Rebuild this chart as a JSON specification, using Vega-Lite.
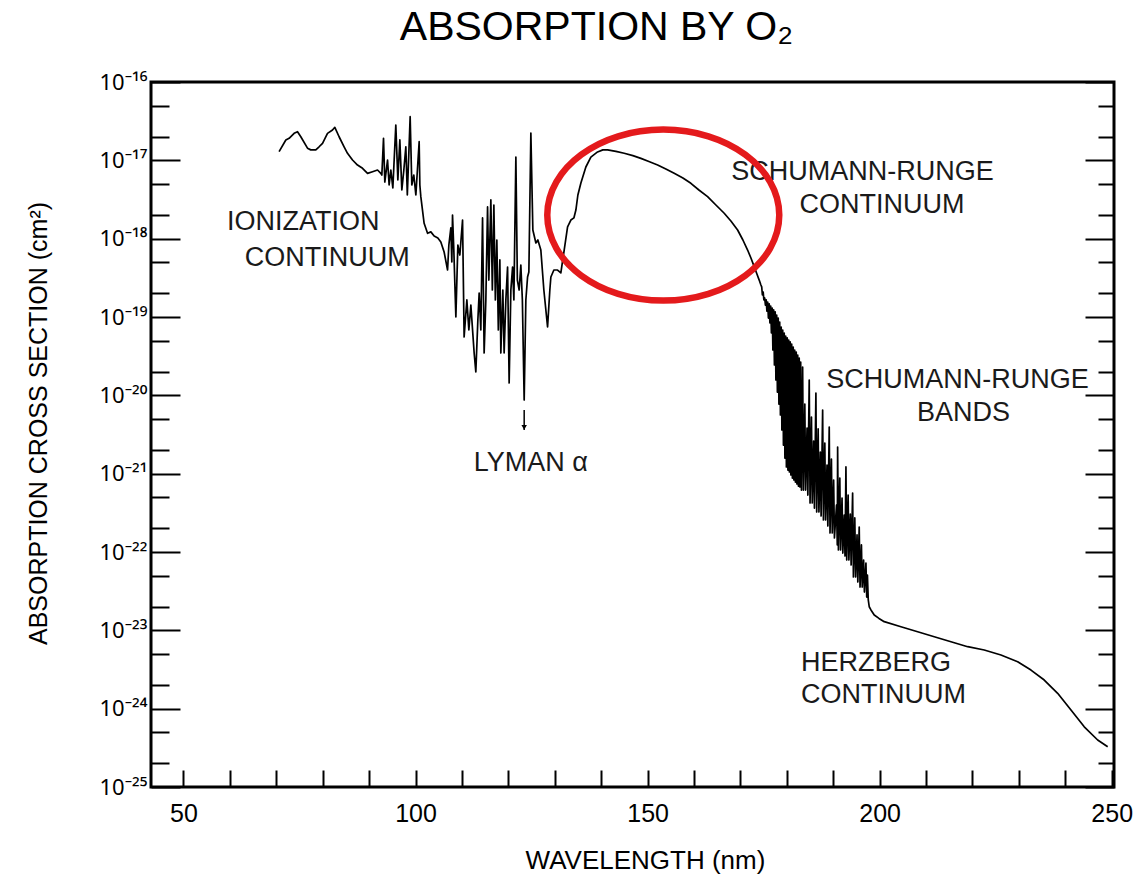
{
  "$schema": "https://vega.github.io/schema/vega-lite/v6.json",
  "autosize": {"type": "none"},
  "width": 963,
  "height": 705,
  "padding": {"left": 151, "top": 82, "right": 19, "bottom": 88},
  "background": "white",
  "config": {
    "view": {"stroke": "black", "strokeWidth": 3},
    "font": "Liberation Sans"
  },
  "title": {"text": "ABSORPTION BY O₂", "font": "Liberation Sans", "fontSize": 41, "fontWeight": "normal", "color": "black", "anchor": "middle", "dx": -36, "offset": 22, "baseline": "top"},
  "datasets": {
    "curve": [
      {"wl":70.60,"xs":1.29e-17},{"wl":72.05,"xs":1.82e-17},{"wl":72.76,"xs":1.91e-17},{"wl":73.84,"xs":2.21e-17},{"wl":74.57,"xs":2.32e-17},{"wl":75.28,"xs":2.00e-17},{"wl":76.72,"xs":1.43e-17},{"wl":77.43,"xs":1.36e-17},{"wl":78.51,"xs":1.36e-17},{"wl":79.22,"xs":1.49e-17},{"wl":79.96,"xs":1.65e-17},{"wl":81.03,"xs":2.21e-17},{"wl":82.11,"xs":2.44e-17},{"wl":82.61,"xs":2.64e-17},{"wl":83.53,"xs":2.00e-17},{"wl":84.61,"xs":1.49e-17},{"wl":85.34,"xs":1.23e-17},{"wl":86.42,"xs":1.01e-17},{"wl":87.50,"xs":8.71e-18},{"wl":88.58,"xs":7.91e-18},{"wl":89.66,"xs":6.82e-18},{"wl":90.73,"xs":7.16e-18},{"wl":91.81,"xs":7.53e-18},{"wl":92.52,"xs":6.82e-18},{"wl":92.74,"xs":6.50e-18},{"wl":93.10,"xs":1.91e-17},{"wl":93.38,"xs":5.28e-18},{"wl":93.97,"xs":1.01e-17},{"wl":94.31,"xs":4.84e-18},{"wl":94.68,"xs":7.53e-18},{"wl":95.11,"xs":4.44e-18},{"wl":95.75,"xs":2.82e-17},{"wl":96.19,"xs":5.61e-18},{"wl":96.62,"xs":1.82e-17},{"wl":97.05,"xs":4.18e-18},{"wl":97.48,"xs":7.53e-18},{"wl":97.91,"xs":1.49e-17},{"wl":98.23,"xs":3.61e-18},{"wl":98.84,"xs":3.61e-17},{"wl":99.20,"xs":4.84e-18},{"wl":99.63,"xs":6.50e-18},{"wl":100.07,"xs":3.61e-18},{"wl":100.78,"xs":1.73e-17},{"wl":100.93,"xs":4.84e-18},{"wl":101.14,"xs":3.44e-18},{"wl":101.85,"xs":1.57e-18},{"wl":102.59,"xs":1.17e-18},{"wl":103.30,"xs":1.22e-18},{"wl":104.01,"xs":1.08e-18},{"wl":104.81,"xs":1.02e-18},{"wl":105.45,"xs":9.06e-19},{"wl":106.16,"xs":6.76e-19},{"wl":106.90,"xs":3.98e-19},
      {"wl":107.18,"xs":8.30e-19},{"wl":107.61,"xs":1.37e-18},{"wl":107.82,"xs":5.04e-19},{"wl":107.97,"xs":2.00e-18},{"wl":108.25,"xs":7.16e-19},{"wl":108.69,"xs":1.00e-19},{"wl":109.12,"xs":8.30e-19},{"wl":109.55,"xs":6.18e-19},{"wl":110.13,"xs":1.73e-18},{"wl":110.47,"xs":5.56e-20},{"wl":111.06,"xs":1.65e-19},{"wl":111.49,"xs":6.82e-20},{"wl":111.92,"xs":1.42e-19},{"wl":112.63,"xs":3.47e-20},{"wl":112.99,"xs":1.99e-20},{"wl":113.43,"xs":9.16e-20},{"wl":113.71,"xs":2.02e-19},{"wl":114.07,"xs":6.82e-20},{"wl":114.44,"xs":1.84e-18},{"wl":114.78,"xs":3.47e-20},{"wl":115.15,"xs":1.65e-19},{"wl":115.52,"xs":2.54e-18},{"wl":115.80,"xs":2.96e-19},{"wl":116.23,"xs":3.12e-18},{"wl":116.55,"xs":2.21e-19},{"wl":116.88,"xs":2.69e-18},{"wl":117.20,"xs":1.65e-19},{"wl":117.52,"xs":9.62e-19},{"wl":117.84,"xs":6.82e-20},{"wl":118.17,"xs":5.35e-19},{"wl":118.38,"xs":3.47e-20},{"wl":118.81,"xs":2.21e-19},{"wl":119.09,"xs":3.47e-20},{"wl":119.46,"xs":1.65e-19},{"wl":119.83,"xs":4.35e-19},{"wl":120.17,"xs":1.44e-20},{"wl":120.54,"xs":2.21e-19},{"wl":120.91,"xs":4.35e-19},{"wl":121.19,"xs":1.65e-19},{"wl":121.62,"xs":1.10e-17},{"wl":121.94,"xs":2.96e-19},{"wl":122.33,"xs":2.21e-19},{"wl":122.69,"xs":4.61e-19},{"wl":123.02,"xs":1.65e-19},{"wl":123.41,"xs":8.71e-21},{"wl":123.77,"xs":1.65e-19},{"wl":124.14,"xs":3.24e-19},{"wl":124.42,"xs":3.75e-19},{"wl":124.85,"xs":2.23e-17},{"wl":125.28,"xs":1.29e-18},{"wl":125.93,"xs":8.81e-19},{"wl":126.36,"xs":9.62e-19},{"wl":127.00,"xs":7.16e-19},{"wl":127.65,"xs":2.21e-19},{"wl":128.45,"xs":7.45e-20},{"wl":128.94,"xs":2.21e-19},{"wl":129.16,"xs":3.24e-19},{"wl":129.81,"xs":3.98e-19},{"wl":130.60,"xs":3.98e-19},{"wl":131.31,"xs":3.65e-19},
      {"wl":132.03,"xs":7.16e-19},{"wl":132.76,"xs":1.41e-18},{"wl":133.47,"xs":1.73e-18},{"wl":134.12,"xs":1.84e-18},{"wl":134.55,"xs":2.32e-18},{"wl":134.98,"xs":3.61e-18},{"wl":135.63,"xs":5.14e-18},{"wl":136.70,"xs":8.22e-18},{"wl":137.78,"xs":1.10e-17},{"wl":139.22,"xs":1.28e-17},{"wl":140.36,"xs":1.36e-17},{"wl":141.38,"xs":1.36e-17},{"wl":143.17,"xs":1.30e-17},{"wl":144.96,"xs":1.23e-17},{"wl":146.83,"xs":1.15e-17},{"wl":148.56,"xs":1.06e-17},{"wl":150.28,"xs":9.66e-18},{"wl":152.16,"xs":8.71e-18},{"wl":153.94,"xs":7.74e-18},{"wl":155.73,"xs":6.82e-18},{"wl":157.61,"xs":5.94e-18},{"wl":159.33,"xs":5.09e-18},{"wl":161.06,"xs":4.18e-18},{"wl":162.93,"xs":3.44e-18},{"wl":164.72,"xs":2.69e-18},{"wl":166.51,"xs":2.11e-18},{"wl":167.95,"xs":1.68e-18},{"wl":169.40,"xs":1.29e-18},{"wl":170.54,"xs":9.62e-19},{"wl":171.55,"xs":7.16e-19},{"wl":172.27,"xs":5.66e-19},{"wl":172.97,"xs":4.39e-19},{"wl":173.56,"xs":3.54e-19},{"wl":174.05,"xs":2.96e-19},{"wl":174.42,"xs":2.56e-19},
      {"wl":174.59,"xs":2.42e-19},{"wl":174.74,"xs":1.91e-19},{"wl":174.91,"xs":2.08e-19},{"wl":175.06,"xs":1.65e-19},{"wl":175.23,"xs":1.75e-19},{"wl":175.39,"xs":1.42e-19},{"wl":175.56,"xs":1.65e-19},{"wl":175.71,"xs":1.19e-19},{"wl":175.88,"xs":1.55e-19},{"wl":176.03,"xs":9.70e-20},{"wl":176.21,"xs":1.47e-19},{"wl":176.36,"xs":8.38e-20},{"wl":176.53,"xs":1.38e-19},{"wl":176.68,"xs":6.25e-20},{"wl":176.85,"xs":1.30e-19},{"wl":177.00,"xs":3.79e-20},{"wl":177.17,"xs":1.23e-19},{"wl":177.33,"xs":2.44e-20},{"wl":177.50,"xs":1.16e-19},{"wl":177.65,"xs":1.57e-20},{"wl":177.82,"xs":1.06e-19},{"wl":177.97,"xs":1.10e-20},{"wl":178.15,"xs":9.70e-20},{"wl":178.30,"xs":7.74e-21},{"wl":178.47,"xs":8.63e-20},{"wl":178.62,"xs":5.61e-21},{"wl":178.79,"xs":7.45e-20},{"wl":178.94,"xs":3.61e-21},{"wl":179.12,"xs":6.82e-20},{"wl":179.27,"xs":2.32e-21},{"wl":179.44,"xs":6.25e-20},{"wl":179.59,"xs":1.58e-21},{"wl":179.76,"xs":5.71e-20},{"wl":179.91,"xs":1.22e-21},{"wl":180.09,"xs":5.40e-20},{"wl":180.24,"xs":1.11e-21},{"wl":180.41,"xs":5.08e-20},{"wl":180.56,"xs":1.05e-21},{"wl":180.73,"xs":4.80e-20},{"wl":180.88,"xs":9.62e-22},{"wl":181.05,"xs":4.52e-20},{"wl":181.20,"xs":8.79e-22},{"wl":181.38,"xs":4.14e-20},{"wl":181.53,"xs":8.30e-22},{"wl":181.70,"xs":3.79e-20},{"wl":181.85,"xs":7.82e-22},{"wl":182.03,"xs":3.57e-20},{"wl":182.18,"xs":7.38e-22},{"wl":182.35,"xs":3.27e-20},{"wl":182.50,"xs":6.95e-22},{"wl":182.67,"xs":2.99e-20},{"wl":182.82,"xs":6.76e-22},{"wl":182.99,"xs":2.66e-20},{"wl":183.15,"xs":6.18e-22},
      {"wl":183.41,"xs":2.30e-20},{"wl":183.58,"xs":6.18e-22},{"wl":183.88,"xs":7.74e-21},{"wl":184.05,"xs":6.18e-22},{"wl":184.36,"xs":3.83e-21},{"wl":184.53,"xs":5.33e-22},{"wl":184.83,"xs":1.57e-20},{"wl":185.01,"xs":4.22e-22},{"wl":185.31,"xs":5.28e-21},{"wl":185.48,"xs":4.22e-22},{"wl":185.78,"xs":2.61e-21},{"wl":185.95,"xs":3.64e-22},{"wl":186.27,"xs":1.07e-20},{"wl":186.44,"xs":3.24e-22},{"wl":186.75,"xs":3.72e-21},{"wl":186.92,"xs":3.24e-22},{"wl":187.22,"xs":1.89e-21},{"wl":187.39,"xs":2.88e-22},{"wl":187.72,"xs":6.50e-21},{"wl":187.89,"xs":2.56e-22},{"wl":188.19,"xs":2.46e-21},{"wl":188.36,"xs":2.56e-22},{"wl":188.66,"xs":1.29e-21},{"wl":188.84,"xs":2.15e-22},{"wl":189.14,"xs":3.94e-21},{"wl":189.31,"xs":1.75e-22},{"wl":189.61,"xs":1.54e-21},{"wl":189.79,"xs":1.75e-22},{"wl":190.09,"xs":8.30e-22},{"wl":190.26,"xs":1.51e-22},{"wl":190.71,"xs":3.98e-22},{"wl":190.88,"xs":1.23e-22},{"wl":190.95,"xs":2.19e-21},{"wl":191.12,"xs":1.06e-22},{"wl":191.42,"xs":8.79e-22},{"wl":191.59,"xs":1.06e-22},{"wl":191.90,"xs":4.89e-22},{"wl":192.07,"xs":9.70e-23},{"wl":192.37,"xs":2.96e-22},{"wl":192.54,"xs":8.89e-23},{"wl":192.74,"xs":1.22e-21},{"wl":192.91,"xs":7.91e-23},{"wl":193.21,"xs":5.33e-22},{"wl":193.38,"xs":7.91e-23},{"wl":193.68,"xs":3.05e-22},{"wl":193.86,"xs":6.82e-23},{"wl":194.18,"xs":5.66e-22},{"wl":194.35,"xs":4.80e-23},{"wl":194.65,"xs":2.72e-22},{"wl":194.83,"xs":4.80e-23},{"wl":195.13,"xs":1.65e-22},{"wl":195.30,"xs":4.14e-23},{"wl":195.60,"xs":2.08e-22},{"wl":195.78,"xs":3.57e-23},{"wl":196.08,"xs":1.23e-22},{"wl":196.25,"xs":3.57e-23},{"wl":196.55,"xs":7.91e-23},{"wl":196.72,"xs":3.08e-23},{"wl":197.05,"xs":7.23e-23},{"wl":197.22,"xs":2.66e-23},{"wl":197.37,"xs":5.08e-23},{"wl":197.55,"xs":2.44e-23},
      {"wl":197.76,"xs":2.00e-23},{"wl":198.13,"xs":1.82e-23},{"wl":198.84,"xs":1.57e-23},{"wl":199.86,"xs":1.42e-23},{"wl":200.99,"xs":1.29e-23},{"wl":204.59,"xs":1.11e-23},{"wl":208.19,"xs":9.59e-24},{"wl":211.77,"xs":8.28e-24},{"wl":215.37,"xs":7.16e-24},{"wl":218.97,"xs":6.18e-24},{"wl":222.54,"xs":5.61e-24},{"wl":226.14,"xs":4.84e-24},{"wl":229.74,"xs":3.97e-24},{"wl":232.61,"xs":3.11e-24},{"wl":235.47,"xs":2.32e-24},{"wl":238.36,"xs":1.57e-24},{"wl":241.23,"xs":9.62e-25},{"wl":244.09,"xs":5.87e-25},{"wl":246.98,"xs":3.98e-25},{"wl":249.14,"xs":3.27e-25}
    ],
    "notes": [
      {"t":"IONIZATION","wl":75.82,"xs":1.63e-18},
      {"t":"CONTINUUM","wl":80.99,"xs":5.66e-19},
      {"t":"LYMAN α","wl":124.86,"xs":1.37e-21},
      {"t":"SCHUMANN-RUNGE","wl":196.29,"xs":7.10e-18},
      {"t":"CONTINUUM","wl":200.50,"xs":2.69e-18},
      {"t":"SCHUMANN-RUNGE","wl":216.77,"xs":1.57e-20},
      {"t":"BANDS","wl":218.06,"xs":5.94e-21},
      {"t":"HERZBERG","wl":199.20,"xs":3.83e-24},
      {"t":"CONTINUUM","wl":200.82,"xs":1.49e-24}
    ],
    "arrow": [{"wl":123.41,"xs":6.5e-21,"xs2":3.61e-21,"tip":3.9e-21}],
    "marker": [{"wl":153.38,"xs":2.0e-18}]
  },
  "layer": [
    {
      "data": {"name": "curve"},
      "mark": {"type": "line", "color": "black", "strokeWidth": 1.7, "strokeJoin": "round"},
      "encoding": {
        "x": {"field": "wl", "type": "quantitative", "scale": {"domain": [43, 250.5], "nice": false, "zero": false},
          "axis": {"orient": "bottom", "title": "WAVELENGTH (nm)", "values": [50,60,70,80,90,100,110,120,130,140,150,160,170,180,190,200,210,220,230,240,250],
            "labelExpr": "datum.value % 50 === 0 ? datum.label : ''", "labelFlush": false, "labelOverlap": false,
            "tickSize": -17, "tickWidth": 2, "tickColor": "black", "domain": false, "grid": false,
            "labelFont": "Liberation Sans", "labelFontSize": 25, "labelColor": "black", "labelPadding": 31,
            "titleFont": "Liberation Sans", "titleFontSize": 26, "titleFontWeight": "normal", "titleColor": "black",
            "titleX": 494, "titleY": 73, "titleBaseline": "middle", "titleAlign": "center"}},
        "y": {"field": "xs", "type": "quantitative", "scale": {"type": "log", "domain": [1e-25, 1e-16], "nice": false},
          "axis": {"orient": "left", "title": "ABSORPTION CROSS SECTION (cm²)",
            "values": [1e-25,2e-25,5e-25,1e-24,2e-24,5e-24,1e-23,2e-23,5e-23,1e-22,2e-22,5e-22,1e-21,2e-21,5e-21,1e-20,2e-20,5e-20,1e-19,2e-19,5e-19,1e-18,2e-18,5e-18,1e-17,2e-17,5e-17,1e-16],
            "labelExpr": "abs(log(datum.value)/LN10 - round(log(datum.value)/LN10)) > 0.01 ? '' : ['10⁻²⁵','10⁻²⁴','10⁻²³','10⁻²²','10⁻²¹','10⁻²⁰','10⁻¹⁹','10⁻¹⁸','10⁻¹⁷','10⁻¹⁶'][round(log(datum.value)/LN10) + 25]",
            "labelOverlap": false, "labelFlush": false,
            "tickSize": {"condition": {"test": "abs(log(datum.value)/LN10 - round(log(datum.value)/LN10)) < 0.01", "value": -29}, "value": -18},
            "tickWidth": 2, "tickColor": "black", "domain": false, "grid": false,
            "labelFont": "Noto Sans", "labelFontSize": 22, "labelColor": "black", "labelPadding": 33,
            "titleFont": "Liberation Sans", "titleFontSize": 25, "titleFontWeight": "normal", "titleColor": "black",
            "titleX": -113, "titleY": 341, "titleAngle": 270, "titleBaseline": "middle", "titleAlign": "center"}}
      }
    },
    {
      "data": {"name": "curve"},
      "mark": {"type": "line", "color": "black", "strokeWidth": 1, "opacity": 0},
      "encoding": {
        "x": {"field": "wl", "type": "quantitative", "axis": null},
        "y": {"field": "xs", "type": "quantitative",
          "axis": {"orient": "right", "title": null, "labels": false,
            "values": [1e-25,2e-25,5e-25,1e-24,2e-24,5e-24,1e-23,2e-23,5e-23,1e-22,2e-22,5e-22,1e-21,2e-21,5e-21,1e-20,2e-20,5e-20,1e-19,2e-19,5e-19,1e-18,2e-18,5e-18,1e-17,2e-17,5e-17,1e-16],
            "tickSize": {"condition": {"test": "abs(log(datum.value)/LN10 - round(log(datum.value)/LN10)) < 0.01", "value": -29}, "value": -16},
            "tickWidth": 2, "tickColor": "black", "domain": false, "grid": false}}
      }
    },
    {
      "data": {"name": "notes"},
      "mark": {"type": "text", "font": "Liberation Sans", "fontSize": 27, "color": "#1a1a1a", "align": "center", "baseline": "middle"},
      "encoding": {
        "x": {"field": "wl", "type": "quantitative", "axis": null},
        "y": {"field": "xs", "type": "quantitative", "axis": null},
        "text": {"field": "t"}
      }
    },
    {
      "data": {"name": "arrow"},
      "mark": {"type": "rule", "color": "black", "strokeWidth": 1.5},
      "encoding": {
        "x": {"field": "wl", "type": "quantitative", "axis": null},
        "y": {"field": "xs", "type": "quantitative", "axis": null},
        "y2": {"field": "xs2"}
      }
    },
    {
      "data": {"name": "arrow"},
      "mark": {"type": "point", "shape": "triangle-down", "filled": true, "color": "black", "size": 30, "opacity": 1},
      "encoding": {
        "x": {"field": "wl", "type": "quantitative", "axis": null},
        "y": {"field": "tip", "type": "quantitative", "axis": null}
      }
    },
    {
      "data": {"name": "marker"},
      "mark": {"type": "point", "shape": "M -1 0 C -1 -0.407 -0.552 -0.737 0 -0.737 C 0.552 -0.737 1 -0.407 1 0 C 1 0.407 0.552 0.737 0 0.737 C -0.552 0.737 -1 0.407 -1 0 Z", "filled": false, "stroke": "#e41a1c", "strokeWidth": 6.5, "size": 53824, "opacity": 1},
      "encoding": {
        "x": {"field": "wl", "type": "quantitative", "axis": null},
        "y": {"field": "xs", "type": "quantitative", "axis": null}
      }
    }
  ],
  "resolve": {"axis": {"x": "independent", "y": "independent"}}
}
